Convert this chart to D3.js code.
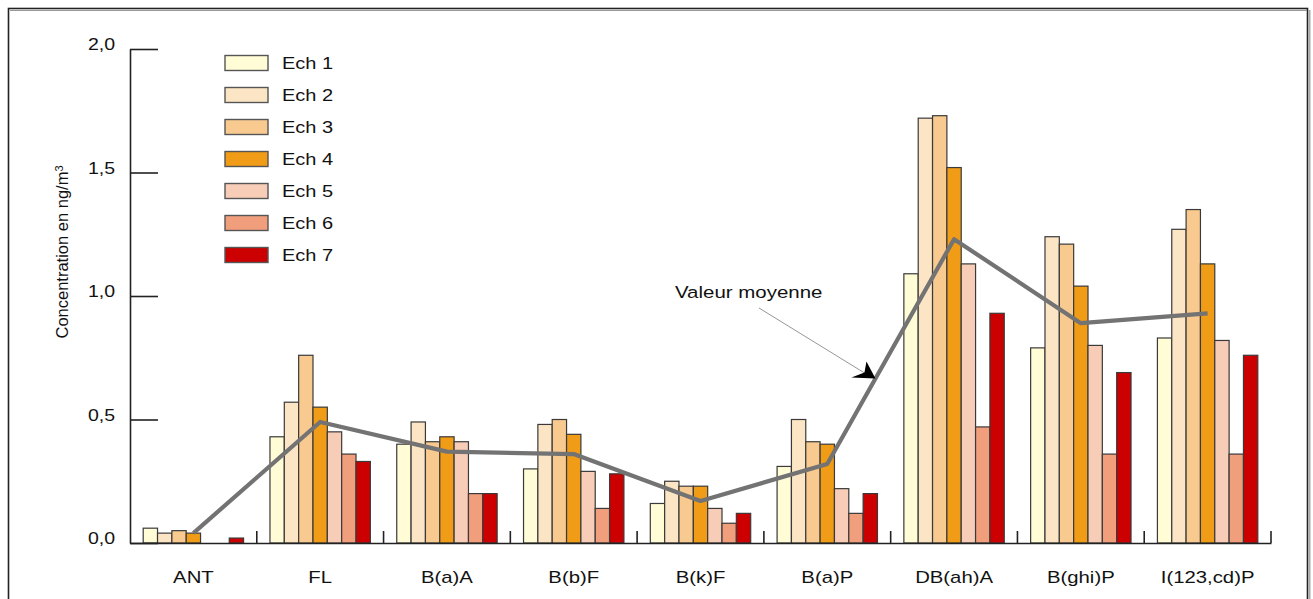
<!DOCTYPE html>
<html>
<head>
<meta charset="utf-8">
<script src="https://cdn.jsdelivr.net/npm/d3@7"></script>
<style>
  html, body { margin: 0; padding: 0; background: #fff; }
  svg { display: block; }
  text { font-family: "Liberation Sans", Arial, Helvetica, sans-serif; fill: #111; }
</style>
</head>
<body>
<svg id="chart" width="1313" height="599"></svg>
<script>
// ---- data ----
const categories = ["ANT", "FL", "B(a)A", "B(b)F", "B(k)F", "B(a)P", "DB(ah)A", "B(ghi)P", "I(123,cd)P"];
const seriesNames = ["Ech 1", "Ech 2", "Ech 3", "Ech 4", "Ech 5", "Ech 6", "Ech 7"];
const ech1 = [0.06, 0.43, 0.40, 0.30, 0.16, 0.31, 1.09, 0.79, 0.83];
const ech2 = [0.04, 0.57, 0.49, 0.48, 0.25, 0.50, 1.72, 1.24, 1.27];
const ech3 = [0.05, 0.76, 0.41, 0.50, 0.23, 0.41, 1.73, 1.21, 1.35];
const ech4 = [0.04, 0.55, 0.43, 0.44, 0.23, 0.40, 1.52, 1.04, 1.13];
const ech5 = [0.00, 0.45, 0.41, 0.29, 0.14, 0.22, 1.13, 0.80, 0.82];
const ech6 = [0.00, 0.36, 0.20, 0.14, 0.08, 0.12, 0.47, 0.36, 0.36];
const ech7 = [0.02, 0.33, 0.20, 0.28, 0.12, 0.20, 0.93, 0.69, 0.76];
const meanValues = [0.04, 0.49, 0.37, 0.36, 0.17, 0.32, 1.23, 0.89, 0.93];
const yTicks = [0, 0.5, 1.0, 1.5, 2.0];
const seriesColors = ["#FFFCD6", "#FCE5C4", "#F8CA90", "#F09C16", "#F8CDB7", "#F19E7D", "#CC0000"];

const seriesValues = [ech1, ech2, ech3, ech4, ech5, ech6, ech7];
const barData = [];
categories.forEach((c, i) => {
  seriesNames.forEach((s, j) => {
    barData.push({ cat: c, series: s, value: seriesValues[j][i] });
  });
});

// ---- layout ----
const svg = d3.select("#chart");
const x0 = d3.scaleBand().domain(categories).range([130, 1271]).paddingInner(0).paddingOuter(0);
const x1 = d3.scaleBand().domain(seriesNames).range([0, x0.bandwidth()]).paddingInner(0).paddingOuter(0.92);
const y = d3.scaleLinear().domain([0, 2]).range([543, 49]);
const color = d3.scaleOrdinal().domain(seriesNames).range(seriesColors);

// frame
svg.append("rect").attr("x", 8.5).attr("y", 8.5).attr("width", 1299).attr("height", 620)
  .attr("fill", "none").attr("stroke", "#222").attr("stroke-width", 1.6);
svg.append("line").attr("x1", 1309.5).attr("x2", 1309.5).attr("y1", 10).attr("y2", 599)
  .attr("stroke", "#aaa").attr("stroke-width", 2);
svg.append("line").attr("x1", 10).attr("x2", 1307).attr("y1", 10.5).attr("y2", 10.5)
  .attr("stroke", "#999").attr("stroke-width", 1);

// bars
svg.append("g").selectAll("rect").data(barData.filter(d => d.value > 0)).join("rect")
  .attr("x", d => x0(d.cat) + x1(d.series))
  .attr("y", d => y(d.value))
  .attr("width", x1.bandwidth())
  .attr("height", d => y(0) - y(d.value))
  .attr("fill", d => color(d.series))
  .attr("stroke", "#3a3a3a")
  .attr("stroke-width", 1.2);

// y axis
const yAxis = svg.append("g").attr("transform", "translate(130,0)")
  .call(d3.axisLeft(y).tickValues(yTicks).tickSizeInner(-28).tickSizeOuter(0).tickPadding(15)
    .tickFormat(d => d3.format(".1f")(d).replace(".", ",")));
yAxis.attr("font-size", null);
yAxis.selectAll("path, line").attr("stroke", "#222").attr("stroke-width", 1.6);
yAxis.selectAll("text")
  .attr("x", null).attr("dy", "0.05em")
  .attr("transform", "translate(-15,0) scale(1.22,1)")
  .attr("text-anchor", "end")
  .attr("font-size", 16).style("font-size", "16px")
  .style("font-family", "'Liberation Sans', Arial, sans-serif").attr("fill", "#111");

// x axis
const xAxis = svg.append("g").attr("transform", `translate(0,${y(0)})`)
  .call(d3.axisBottom(x0).tickSize(0).tickSizeOuter(0));
xAxis.attr("font-size", null);
xAxis.select("path").attr("stroke", "#222").attr("stroke-width", 1.6);
xAxis.selectAll("text")
  .attr("y", 0).attr("dy", 0)
  .attr("transform", "translate(0,40) scale(1.27,1)")
  .style("font-size", "16px").style("font-family", "'Liberation Sans', Arial, sans-serif").attr("fill", "#111");
svg.append("g").selectAll("line").data(categories).join("line")
  .attr("x1", d => x0(d) + x0.bandwidth()).attr("x2", d => x0(d) + x0.bandwidth())
  .attr("y1", y(0)).attr("y2", y(0) - 12)
  .attr("stroke", "#222").attr("stroke-width", 1.6);

// y label
const yl = svg.append("text")
  .attr("transform", "translate(68,252) rotate(-90)")
  .attr("text-anchor", "middle")
  .style("font-size", "16.5px");
yl.append("tspan").text("Concentration en ng/m");
yl.append("tspan").attr("dy", "-0.45em").style("font-size", "11px").text("3");

// mean line
const meanPts = categories.map((c, i) => [x0(c) + x0.bandwidth() / 2, y(meanValues[i])]);
svg.append("path").datum(meanPts)
  .attr("d", d3.line())
  .attr("fill", "none").attr("stroke", "#737373").attr("stroke-width", 4.2)
  .attr("stroke-linejoin", "round");

// annotation
const pA = meanPts[5], pB = meanPts[6];
const t = 0.38;
const tip = [pA[0] + (pB[0] - pA[0]) * t, pA[1] + (pB[1] - pA[1]) * t];
svg.append("text").attr("transform", "translate(675,298) scale(1.24,1)")
  .style("font-size", "16.5px").text("Valeur moyenne");
svg.append("line").attr("x1", 759).attr("y1", 308).attr("x2", tip[0] - 10).attr("y2", tip[1] - 5)
  .attr("stroke", "#8a8a8a").attr("stroke-width", 0.9);
svg.append("path")
  .attr("d", `M${tip[0]},${tip[1]} L${tip[0] - 24},${tip[1] - 1} L${tip[0] - 11},${tip[1] - 6} L${tip[0] - 9},${tip[1] - 17} Z`)
  .attr("fill", "#000");

// legend
const legend = svg.append("g");
const ly = i => 63 + i * 32;
legend.selectAll("rect").data(seriesNames).join("rect")
  .attr("x", 225).attr("y", (d, i) => ly(i) - 7.5)
  .attr("width", 43).attr("height", 15)
  .attr("fill", d => color(d)).attr("stroke", "#555").attr("stroke-width", 1.4);
legend.selectAll("text").data(seriesNames).join("text")
  .attr("transform", (d, i) => `translate(282,${ly(i) + 6}) scale(1.25,1)`)
  .style("font-size", "16px").text(d => d);
</script>
</body>
</html>
